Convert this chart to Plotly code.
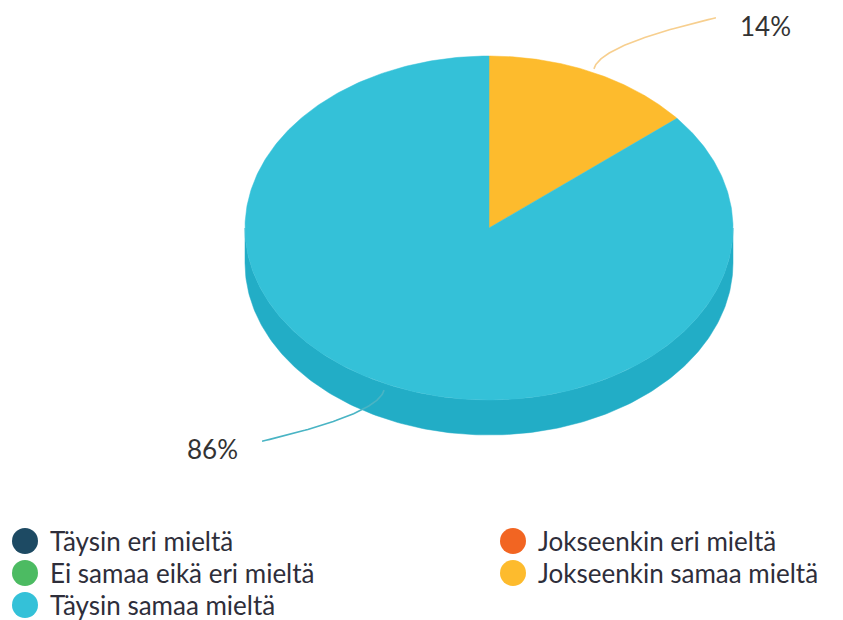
import numpy as np
import plotly.graph_objects as go

# Survey answers (share of respondents, %)
categories = [
    "Täysin eri mieltä",
    "Jokseenkin eri mieltä",
    "Ei samaa eikä eri mieltä",
    "Jokseenkin samaa mieltä",
    "Täysin samaa mieltä",
]
values = [0, 0, 0, 14, 86]
colors = ["#1d4a63", "#f26522", "#4cbb62", "#fdbb2d", "#34c1d8"]
side_colors = ["#163a4e", "#d4561b", "#3fa353", "#e0a524", "#22adc6"]
label_line_colors = ["#1d4a63", "#f26522", "#4cbb62", "#f7cf8f", "#49b4c4"]

W, H = 843, 620
# tilted pie geometry (pixel space)
CX, CY, RX, RY, DEPTH = 489, 228, 244, 172, 35
FONT = "Lato, 'Open Sans', sans-serif"


def ellipse(theta_deg, scale=1.0, dy=0.0):
    t = np.radians(theta_deg)
    return CX + scale * RX * np.sin(t), CY - scale * RY * np.cos(t) + dy


fig = go.Figure()

total = float(sum(values))
starts, ends = [], []
acc = 0.0
for v in values:
    starts.append(acc / total * 360.0)
    acc += v
    ends.append(acc / total * 360.0)

# side walls (only the front half, 90°..270°, is visible)
for i, v in enumerate(values):
    if v <= 0:
        continue
    a, b = max(starts[i], 90.0), min(ends[i], 270.0)
    if b <= a:
        continue
    th = np.linspace(a, b, 200)
    xt, yt = ellipse(th)
    xs = np.concatenate([xt, xt[::-1], xt[:1]])
    ys = np.concatenate([yt, yt[::-1] + DEPTH, yt[:1]])
    fig.add_trace(go.Scatter(x=xs, y=ys, mode="lines", fill="toself",
                             fillcolor=side_colors[i],
                             line=dict(color=side_colors[i], width=0.5),
                             hoverinfo="skip", showlegend=False))

# top faces
for i, v in enumerate(values):
    if v <= 0:
        continue
    th = np.linspace(starts[i], ends[i], 400)
    xt, yt = ellipse(th)
    xs = np.concatenate([[CX], xt, [CX]])
    ys = np.concatenate([[CY], yt, [CY]])
    fig.add_trace(go.Scatter(x=xs, y=ys, mode="lines", fill="toself",
                             fillcolor=colors[i],
                             line=dict(color=colors[i], width=0.5),
                             hoverinfo="skip", showlegend=False,
                             name=categories[i]))

# data labels with curved connectors
annotations = []
for i, v in enumerate(values):
    if v <= 0:
        continue
    mid = (starts[i] + ends[i]) / 2.0
    sign = 1 if np.sin(np.radians(mid)) >= 0 else -1
    drop = 5 if np.cos(np.radians(mid)) < 0 else -2
    x0, y0 = ellipse(mid, scale=1.01, dy=drop)
    cxp, cyp = x0 + sign * 6, y0 - sign * 24
    x2, y2 = x0 + sign * 122, y0 - sign * 51
    t = np.linspace(0, 1, 60)
    bx = (1 - t) ** 2 * x0 + 2 * (1 - t) * t * cxp + t ** 2 * x2
    by = (1 - t) ** 2 * y0 + 2 * (1 - t) * t * cyp + t ** 2 * y2
    fig.add_trace(go.Scatter(x=bx, y=by, mode="lines",
                             line=dict(color=label_line_colors[i], width=1.6),
                             hoverinfo="skip", showlegend=False))
    annotations.append(dict(x=x2 + sign * 22, y=y2 + 8, xref="x", yref="y",
                            text=f"{v}%", showarrow=False,
                            xanchor="left" if sign > 0 else "right",
                            yanchor="middle",
                            font=dict(family=FONT, size=26, color="#333333")))

# legend: two columns, filled row by row
leg_cols_x = [25, 513]
leg_rows_y = [541, 573, 605]
for k, name in enumerate(categories):
    col, row = k % 2, k // 2
    lx, ly = leg_cols_x[col], leg_rows_y[row]
    fig.add_trace(go.Scatter(x=[lx], y=[ly], mode="markers",
                             marker=dict(size=26, color=colors[k], symbol="circle"),
                             hoverinfo="skip", showlegend=False))
    annotations.append(dict(x=lx + 24, y=ly, xref="x", yref="y", text=name,
                            showarrow=False, xanchor="left", yanchor="middle",
                            borderpad=0,
                            font=dict(family=FONT, size=26, color="#2e2e3a")))

fig.update_layout(
    width=W, height=H,
    margin=dict(l=0, r=0, t=0, b=0),
    paper_bgcolor="white", plot_bgcolor="white",
    xaxis=dict(range=[0, W], visible=False, fixedrange=True),
    yaxis=dict(range=[H, 0], visible=False, fixedrange=True),
    annotations=annotations,
    showlegend=False,
)

fig.write_html("out.html")
